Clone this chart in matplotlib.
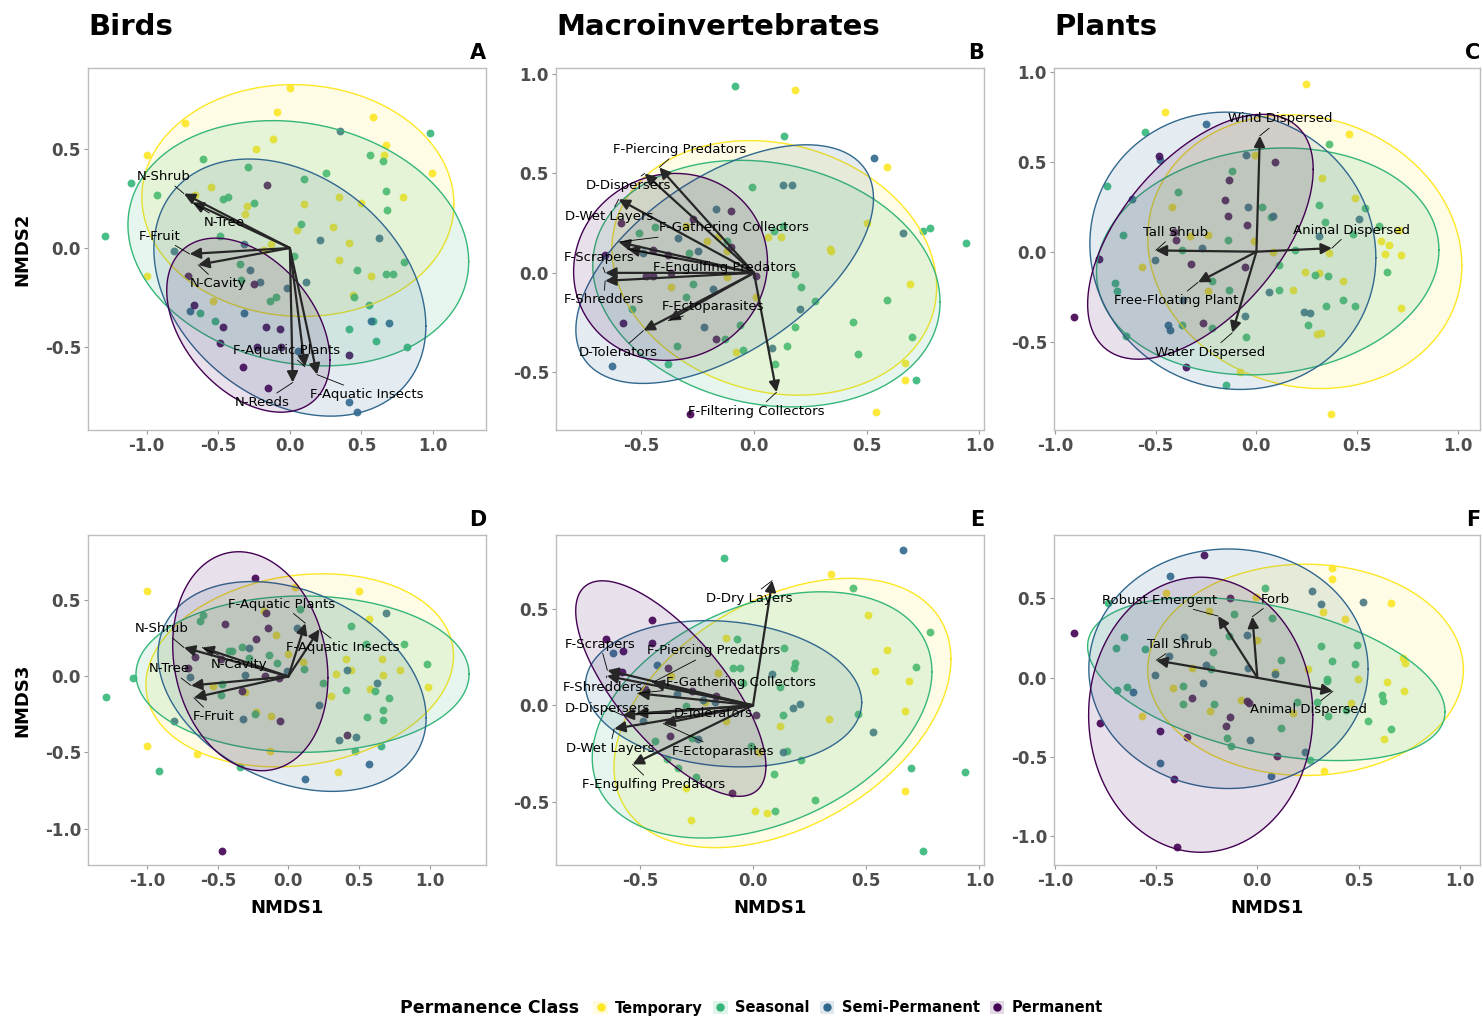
import numpy as np
import matplotlib
matplotlib.use('Agg')
import matplotlib.pyplot as plt
from matplotlib.lines import Line2D
from matplotlib.patches import Patch
from matplotlib.ticker import FormatStrFormatter

W, H = 1483, 1019

CLASSES = ['Temporary', 'Seasonal', 'Semi-Permanent', 'Permanent']
COLORS = ['#FDE725', '#35B779', '#31688E', '#440154']

##################### panel A : birds NMDS1 x NMDS2 #####################
a_temporary = [(0.0, 0.81), (-0.09, 0.69), (-0.73, 0.63), (0.58, 0.66), (0.67, 0.52), (-1.0, 0.47),
               (0.66, 0.47), (0.995, 0.38), (-0.12, 0.55), (-0.24, 0.50), (-0.55, 0.31), (-0.66, 0.27),
               (-0.30, 0.21), (-0.31, 0.17), (0.10, 0.22), (0.34, 0.26), (0.79, 0.26), (0.50, 0.23),
               (0.30, 0.105), (0.05, 0.09), (0.41, 0.025), (-0.13, 0.02), (0.34, -0.06), (-0.18, -0.01),
               (0.57, -0.14), (-1.0, -0.14), (-0.54, -0.27), (0.44, -0.24)]
a_seasonal = [(-1.29, 0.06), (-1.11, 0.33), (-0.93, 0.27), (-0.61, 0.45), (-0.29, 0.41), (-0.47, 0.25),
              (-0.43, 0.26), (-0.25, 0.23), (0.10, 0.35), (0.25, 0.38), (0.98, 0.58), (0.56, 0.47),
              (0.65, 0.44), (0.67, 0.29), (0.68, 0.19), (0.08, 0.12), (-0.49, 0.06), (0.03, -0.04),
              (-0.35, -0.08), (-0.34, -0.16), (0.47, -0.11), (0.67, -0.13), (0.72, -0.13), (0.80, -0.07),
              (0.45, -0.25), (-0.14, -0.27), (-0.10, -0.25), (-0.63, -0.33), (-0.52, -0.37), (0.55, -0.29),
              (0.58, -0.37), (0.41, -0.41), (0.60, -0.47), (0.82, -0.50)]
a_semi = [(0.35, 0.59), (0.21, 0.04), (0.62, 0.05), (-0.81, -0.015), (-0.32, 0.02), (-0.28, -0.11),
          (-0.21, -0.17), (-0.02, -0.20), (0.11, -0.17), (-0.70, -0.32), (-0.32, -0.33), (0.57, -0.37),
          (0.69, -0.38), (0.06, -0.52), (0.41, -0.78), (0.47, -0.83)]
a_permanent = [(-0.16, 0.32), (-0.71, -0.14), (-0.25, -0.18), (-0.67, -0.29), (-0.47, -0.40), (-0.17, -0.40),
               (-0.07, -0.41), (-0.49, -0.48), (-0.23, -0.50), (-0.06, -0.50), (0.41, -0.54), (-0.33, -0.60),
               (-0.15, -0.71)]
# ellipse: centre x, centre y, half-width, half-height, correlation
a_ellipses = [(0.056, 0.24, 1.09, 0.586, -0.03), (0.059, 0.024, 1.19, 0.62, -0.15),
              (0.0, -0.20, 0.95, 0.65, -0.3), (-0.29, -0.39, 0.57, 0.44, -0.4)]
a_traits = ['N-Shrub', 'N-Tree', 'F-Fruit', 'N-Cavity', 'F-Aquatic Plants', 'F-Aquatic Insects', 'N-Reeds']
a_tips = [(-0.74, 0.275), (-0.68, 0.23), (-0.70, -0.03), (-0.64, -0.085), (0.105, -0.60), (0.19, -0.64), (0.02, -0.68)]
a_labels = [(-0.88, 0.36), (-0.46, 0.13), (-0.91, 0.06), (-0.50, -0.18), (-0.02, -0.52), (0.54, -0.74), (-0.19, -0.78)]

##################### panel B : macroinvertebrates NMDS1 x NMDS2 #####################
b_temporary = [(0.18, 0.92), (0.59, 0.53), (0.50, 0.25), (0.335, 0.12), (0.34, 0.11), (0.06, 0.18),
               (0.12, 0.18), (-0.21, 0.16), (-0.12, 0.11), (-0.16, 0.18), (-0.12, -0.02), (-0.37, -0.07),
               (0.01, -0.12), (-0.08, -0.40), (0.69, -0.055), (0.67, -0.455), (0.67, -0.54), (0.54, -0.70),
               (-0.30, 0.235)]
b_seasonal = [(-0.083, 0.94), (0.134, 0.69), (-0.01, 0.43), (-0.44, 0.23), (-0.51, 0.20), (-0.29, 0.10),
              (-0.27, -0.055), (-0.30, -0.12), (-0.54, -0.18), (-0.34, -0.37), (-0.38, -0.46), (-0.13, -0.33),
              (-0.06, -0.26), (-0.05, -0.39), (-0.12, 0.16), (0.09, 0.21), (0.13, 0.235), (0.18, -0.007),
              (0.21, -0.07), (0.27, -0.14), (0.18, -0.27), (0.145, -0.37), (0.095, -0.46), (0.44, -0.245),
              (0.46, -0.41), (0.59, -0.135), (0.70, -0.32), (0.72, -0.54), (0.75, 0.21), (0.78, 0.225),
              (0.94, 0.15)]
b_semi = [(0.53, 0.58), (0.13, 0.44), (0.17, 0.44), (-0.17, 0.32), (-0.335, 0.175), (-0.25, 0.11),
          (-0.49, 0.10), (-0.18, -0.08), (-0.22, -0.27), (0.205, -0.18), (0.66, 0.20), (0.08, -0.38),
          (-0.63, -0.47)]
b_permanent = [(-0.10, 0.31), (-0.27, 0.27), (-0.59, 0.25), (-0.10, 0.13), (-0.45, 0.115), (-0.66, 0.09),
               (-0.38, 0.09), (-0.48, -0.015), (-0.45, -0.015), (0.01, -0.015), (-0.37, 0.0), (-0.58, -0.25),
               (-0.17, -0.33), (-0.285, -0.71)]
b_ellipses = [(0.09, 0.025, 0.72, 0.64, -0.15), (0.055, -0.054, 0.77, 0.62, -0.15),
              (-0.13, 0.044, 0.66, 0.60, 0.55), (-0.37, 0.03, 0.43, 0.47, 0.05)]
b_traits = ['F-Piercing Predators', 'D-Dispersers', 'D-Wet Layers', 'F-Gathering Collectors',
            'F-Engulfing Predators', 'F-Scrapers', 'F-Shredders', 'F-Ectoparasites', 'D-Tolerators',
            'F-Filtering Collectors']
b_tips = [(-0.42, 0.53), (-0.485, 0.50), (-0.60, 0.37), (-0.60, 0.155), (-0.56, 0.12), (-0.66, 0.0),
          (-0.66, -0.04), (-0.38, -0.24), (-0.49, -0.29), (0.10, -0.60)]
b_labels = [(-0.33, 0.62), (-0.556, 0.44), (-0.64, 0.285), (-0.09, 0.226), (-0.13, 0.025), (-0.685, 0.075),
            (-0.666, -0.134), (-0.18, -0.17), (-0.60, -0.40), (0.01, -0.695)]

##################### panel C : plants NMDS1 x NMDS2 #####################
c_temporary = [(0.245, 0.93), (-0.455, 0.776), (0.46, 0.655), (-0.005, 0.535), (0.325, 0.41), (0.49, 0.30),
               (-0.42, 0.25), (-0.33, 0.085), (-0.24, 0.095), (-0.013, 0.057), (0.08, -0.004), (0.36, -0.007),
               (0.62, 0.057), (0.656, 0.035), (0.636, -0.01), (0.72, -0.02), (0.71, 0.12), (-0.57, -0.085),
               (0.24, -0.115), (0.31, -0.12), (0.43, -0.16), (0.18, -0.21), (-0.24, -0.22), (0.72, -0.31),
               (0.30, -0.455), (0.32, -0.45), (-0.084, -0.67), (0.37, -0.90)]
c_seasonal = [(-0.555, 0.667), (0.36, 0.60), (-0.12, 0.45), (-0.74, 0.363), (-0.39, 0.333), (0.03, 0.25),
              (0.31, 0.26), (0.54, 0.24), (0.07, 0.19), (0.34, 0.165), (0.61, 0.14), (0.48, 0.10),
              (-0.66, 0.09), (-0.14, 0.067), (-0.37, 0.011), (0.19, 0.007), (0.11, -0.072), (-0.22, -0.16),
              (0.65, -0.11), (0.29, -0.13), (0.355, -0.133), (-0.70, -0.174), (-0.69, -0.22), (-0.135, -0.215),
              (0.114, -0.215), (0.344, -0.30), (0.43, -0.27), (0.49, -0.30), (-0.37, -0.405), (-0.22, -0.424),
              (0.255, -0.405), (-0.646, -0.467), (-0.05, -0.476), (-0.15, -0.74)]
c_semi = [(-0.25, 0.71), (-0.48, 0.51), (-0.05, 0.535), (-0.617, 0.29), (-0.04, 0.25), (0.083, 0.20),
          (0.51, 0.18), (0.31, 0.085), (-0.27, 0.019), (-0.505, -0.044), (-0.367, -0.267), (0.06, -0.226),
          (-0.055, -0.356), (-0.44, -0.405), (-0.43, -0.433), (0.235, -0.333), (0.268, -0.34)]
c_permanent = [(-0.484, 0.533), (0.093, 0.50), (-0.137, 0.396), (-0.157, 0.289), (-0.14, 0.20), (-0.045, 0.15),
               (-0.41, 0.11), (-0.40, 0.063), (-0.78, -0.039), (-0.327, -0.069), (-0.058, -0.083),
               (-0.906, -0.365), (-0.266, -0.396), (-0.35, -0.64)]
c_ellipses = [(0.24, 0.0, 0.78, 0.76, -0.1), (0.056, -0.054, 0.85, 0.63, 0.1),
              (-0.117, 0.005, 0.71, 0.77, -0.05), (-0.278, 0.083, 0.56, 0.68, 0.55)]
c_traits = ['Wind Dispersed', 'Tall Shrub', 'Animal Dispersed', 'Free-Floating Plant', 'Water Dispersed']
c_tips = [(0.017, 0.644), (-0.50, 0.007), (0.375, 0.02), (-0.29, -0.17), (-0.12, -0.45)]
c_labels = [(0.12, 0.737), (-0.40, 0.107), (0.47, 0.12), (-0.40, -0.27), (-0.23, -0.557)]

##################### panel D : birds NMDS1 x NMDS3 #####################
d_temporary = [(-1.0, 0.56), (0.50, 0.56), (0.05, 0.59), (-0.17, 0.43), (-0.09, 0.27), (0.57, 0.38),
               (0.0, 0.147), (0.10, 0.094), (0.41, 0.116), (0.34, 0.015), (0.445, 0.04), (0.66, 0.116),
               (0.79, 0.04), (0.67, 0.007), (0.99, -0.068), (0.58, -0.085), (0.30, -0.13), (-0.535, -0.06),
               (-0.305, -0.1), (-0.23, -0.234), (-0.12, -0.26), (-1.0, -0.455), (-0.65, -0.51), (-0.13, -0.49),
               (0.35, -0.63)]
d_seasonal = [(-1.29, -0.138), (-1.10, -0.011), (-0.92, -0.624), (-0.607, 0.405), (-0.625, 0.365), (-0.33, 0.195),
              (-0.42, 0.164), (-0.40, 0.164), (-0.28, 0.12), (-0.14, 0.138), (-0.08, 0.088), (0.107, 0.048),
              (0.085, 0.444), (0.244, -0.044), (-0.47, -0.048), (-0.48, -0.12), (-0.24, -0.245), (0.445, 0.333),
              (0.55, 0.21), (0.82, 0.21), (0.98, 0.083), (0.41, -0.088), (0.61, -0.094), (0.71, -0.142),
              (0.56, -0.27), (0.67, -0.223), (0.67, -0.284), (0.654, -0.46), (0.474, -0.49), (-0.346, -0.595)]
d_semi = [(0.69, 0.416), (0.06, 0.32), (-0.28, 0.186), (-0.305, 0.007), (-0.70, -0.004), (-0.012, 0.037),
          (0.417, 0.044), (0.626, -0.04), (0.215, -0.186), (-0.81, -0.29), (-0.325, -0.278), (0.36, -0.418),
          (0.476, -0.40), (0.573, -0.575), (0.114, -0.674)]
d_permanent = [(-0.24, 0.645), (-0.156, 0.416), (-0.45, 0.348), (-0.147, 0.317), (-0.227, 0.247), (-0.66, 0.131),
               (-0.71, 0.055), (-0.48, 0.114), (-0.166, 0.004), (-0.064, -0.011), (-0.33, -0.098),
               (-0.057, -0.295), (0.415, -0.385), (-0.474, -1.149)]
d_ellipses = [(0.08, 0.04, 1.09, 0.635, 0.15), (0.10, 0.015, 1.18, 0.514, 0.0),
              (0.026, -0.066, 0.95, 0.69, -0.3), (-0.27, 0.10, 0.55, 0.72, -0.15)]
d_traits = ['F-Aquatic Plants', 'N-Shrub', 'F-Aquatic Insects', 'N-Cavity', 'N-Tree', 'F-Fruit']
d_tips = [(0.12, 0.35), (-0.74, 0.19), (0.22, 0.31), (-0.61, 0.19), (-0.69, -0.06), (-0.67, -0.14)]
d_labels = [(-0.045, 0.475), (-0.90, 0.313), (0.386, 0.19), (-0.35, 0.077), (-0.846, 0.05), (-0.533, -0.263)]

##################### panel E : macroinvertebrates NMDS1 x NMDS3 #####################
e_temporary = [(0.343, 0.68), (0.507, 0.47), (-0.118, 0.352), (0.59, 0.286), (0.538, 0.179), (0.69, 0.127),
               (-0.156, 0.168), (-0.36, 0.153), (-0.21, 0.017), (0.67, -0.03), (0.335, -0.071), (0.119, -0.109),
               (-0.118, -0.082), (0.673, -0.446), (0.009, -0.55), (0.063, -0.559), (-0.275, -0.594),
               (-0.297, -0.429), (0.026, -0.245)]
e_seasonal = [(-0.13, 0.764), (0.44, 0.608), (0.78, 0.38), (-0.07, 0.344), (0.137, 0.30), (0.184, 0.222),
              (0.18, 0.196), (-0.088, 0.196), (-0.059, 0.196), (0.72, 0.20), (0.12, 0.097), (-0.043, 0.118),
              (-0.297, -0.003), (0.134, -0.052), (0.463, -0.043), (-0.432, -0.186), (-0.268, -0.172),
              (-0.378, -0.278), (-0.33, -0.325), (-0.253, -0.372), (0.093, -0.356), (0.149, -0.238),
              (0.21, -0.285), (0.696, -0.325), (0.274, -0.493), (0.097, -0.55), (0.935, -0.347),
              (0.75, -0.759), (-0.01, -0.213)]
e_semi = [(0.663, 0.807), (-0.62, 0.27), (-0.425, 0.21), (0.085, 0.161), (-0.334, 0.057), (-0.22, 0.026),
          (-0.17, 0.019), (0.175, -0.012), (0.207, 0.009), (-0.485, -0.082), (-0.241, -0.177), (0.134, -0.241),
          (0.528, -0.137)]
e_permanent = [(-0.444, 0.443), (-0.65, 0.344), (-0.574, 0.283), (-0.444, 0.326), (-0.375, 0.194), (-0.58, 0.175),
               (-0.476, 0.083), (-0.268, 0.075), (-0.165, 0.049), (0.015, -0.05), (-0.368, -0.16), (-0.094, -0.455)]
e_ellipses = [(0.13, -0.04, 0.744, 0.70, 0.4), (0.04, -0.05, 0.75, 0.64, 0.35),
              (-0.13, 0.06, 0.61, 0.38, -0.12), (-0.363, 0.087, 0.42, 0.56, -0.72)]
e_traits = ['D-Dry Layers', 'F-Scrapers', 'F-Shredders', 'F-Piercing Predators', 'F-Gathering Collectors',
            'D-Dispersers', 'D-Tolerators', 'F-Ectoparasites', 'D-Wet Layers', 'F-Engulfing Predators']
e_tips = [(0.085, 0.648), (-0.643, 0.182), (-0.645, 0.153), (-0.444, 0.118), (-0.51, 0.0625),
          (-0.576, -0.052), (-0.518, -0.043), (-0.396, -0.095), (-0.613, -0.122), (-0.532, -0.307)]
e_labels = [(-0.018, 0.556), (-0.675, 0.318), (-0.662, 0.095), (-0.175, 0.283), (-0.054, 0.118),
            (-0.643, -0.016), (-0.175, -0.043), (-0.131, -0.238), (-0.632, -0.222), (-0.441, -0.411)]

##################### panel F : plants NMDS1 x NMDS3 #####################
f_temporary = [(0.37, 0.69), (0.367, 0.62), (0.66, 0.473), (-0.452, 0.533), (-0.008, 0.512), (-0.238, 0.423),
               (0.322, 0.414), (0.434, 0.368), (-0.003, 0.241), (0.72, 0.127), (0.728, 0.093), (-0.324, 0.061),
               (0.248, 0.057), (0.086, 0.034), (0.498, -0.008), (0.64, -0.025), (0.725, -0.085), (-0.416, -0.066),
               (-0.082, -0.14), (0.464, -0.159), (-0.235, -0.209), (0.178, -0.22), (-0.571, -0.243),
               (0.627, -0.387), (0.329, -0.59)]
f_seasonal = [(-0.74, 0.469), (0.036, 0.565), (-0.115, 0.40), (0.074, 0.378), (-0.14, 0.262), (-0.658, 0.258),
              (-0.699, 0.19), (-0.554, 0.184), (-0.219, 0.161), (0.312, 0.203), (0.493, 0.209), (0.118, 0.114),
              (0.367, 0.108), (0.48, 0.085), (-0.227, 0.053), (-0.694, -0.076), (-0.645, -0.055), (-0.37, -0.051),
              (0.342, -0.006), (0.345, -0.023), (-0.37, -0.165), (-0.214, -0.165), (0.197, -0.154), (0.296, -0.15),
              (0.35, -0.239), (0.617, -0.108), (0.622, -0.144), (0.546, -0.27), (0.66, -0.323), (0.115, -0.315),
              (-0.148, -0.38), (-0.132, -0.429), (0.258, -0.52), (0.436, -0.203)]
f_semi = [(-0.431, 0.643), (0.27, 0.55), (0.316, 0.465), (0.52, 0.48), (-0.362, 0.258), (-0.053, 0.268),
          (-0.436, 0.14), (-0.252, 0.082), (-0.046, 0.061), (0.087, 0.021), (-0.505, 0.019), (-0.268, -0.034),
          (-0.617, -0.087), (-0.036, -0.393), (0.235, -0.467), (-0.48, -0.537), (0.066, -0.622)]
f_permanent = [(-0.263, 0.776), (-0.905, 0.283), (-0.135, 0.505), (-0.324, -0.129), (-0.053, -0.144),
               (-0.041, -0.161), (-0.137, -0.25), (-0.153, -0.302), (-0.778, -0.285), (-0.482, -0.334),
               (-0.35, -0.372), (-0.414, -0.636), (0.095, -0.493), (-0.398, -1.066)]
f_ellipses = [(0.238, 0.05, 0.78, 0.666, 0.0), (0.044, -0.008, 0.883, 0.514, -0.4),
              (-0.143, 0.057, 0.69, 0.755, 0.0), (-0.28, -0.233, 0.554, 0.867, 0.0)]
f_traits = ['Robust Emergent', 'Forb', 'Tall Shrub', 'Animal Dispersed']
f_tips = [(-0.194, 0.389), (-0.025, 0.385), (-0.50, 0.11), (0.373, -0.085)]
f_labels = [(-0.485, 0.49), (0.09, 0.495), (-0.386, 0.211), (0.255, -0.203)]


def ellipse_xy(cx, cy, sx, sy, rho, n=240):
    t = np.linspace(0, 2 * np.pi, n)
    x = cx + sx * np.cos(t)
    y = cy + sy * (rho * np.cos(t) + np.sqrt(1 - rho ** 2) * np.sin(t))
    return x, y


def draw_panel(ax, groups, ellipses, traits, tips, labels):
    for pts, c in zip(groups, COLORS):
        pts = np.array(pts)
        ax.scatter(pts[:, 0], pts[:, 1], s=32, color=c, alpha=0.9, linewidths=0, zorder=2)
    for (cx, cy, sx, sy, rho), c in zip(ellipses, COLORS):
        x, y = ellipse_xy(cx, cy, sx, sy, rho)
        ax.fill(x, y, facecolor=c, alpha=0.12, edgecolor='none', zorder=3)
        ax.plot(x, y, color=c, lw=1.0, zorder=3)
    for name, tip, lab in zip(traits, tips, labels):
        ax.annotate('', xy=tip, xytext=(0, 0), zorder=5,
                    arrowprops=dict(arrowstyle='-|>', color='#262626', lw=1.6,
                                    mutation_scale=16, shrinkA=0, shrinkB=0))
        ax.annotate(name, xy=tip, xytext=lab, ha='center', va='center', fontsize=9.5,
                    color='black', zorder=6,
                    arrowprops=dict(arrowstyle='-', color='black', lw=0.6, shrinkA=0, shrinkB=0))


fig = plt.figure(figsize=(W / 100, H / 100), dpi=100)

# axes boxes in pixels: left, top, right, bottom
boxes = [(88, 68, 486, 430), (556, 68, 984, 430), (1054, 68, 1480, 430),
         (88, 535, 486, 865), (556, 535, 984, 865), (1054, 535, 1480, 865)]
panels = [
    ([a_temporary, a_seasonal, a_semi, a_permanent], a_ellipses, a_traits, a_tips, a_labels,
     (-1.41, 1.37), (-0.92, 0.91), [-1.0, -0.5, 0.0, 0.5, 1.0], [-0.5, 0.0, 0.5], 'A'),
    ([b_temporary, b_seasonal, b_semi, b_permanent], b_ellipses, b_traits, b_tips, b_labels,
     (-0.878, 1.02), (-0.79, 1.03), [-0.5, 0.0, 0.5, 1.0], [-0.5, 0.0, 0.5, 1.0], 'B'),
    ([c_temporary, c_seasonal, c_semi, c_permanent], c_ellipses, c_traits, c_tips, c_labels,
     (-1.005, 1.11), (-0.99, 1.02), [-1.0, -0.5, 0.0, 0.5, 1.0], [-0.5, 0.0, 0.5, 1.0], 'C'),
    ([d_temporary, d_seasonal, d_semi, d_permanent], d_ellipses, d_traits, d_tips, d_labels,
     (-1.42, 1.40), (-1.24, 0.93), [-1.0, -0.5, 0.0, 0.5, 1.0], [-1.0, -0.5, 0.0, 0.5], 'D'),
    ([e_temporary, e_seasonal, e_semi, e_permanent], e_ellipses, e_traits, e_tips, e_labels,
     (-0.87, 1.02), (-0.83, 0.885), [-0.5, 0.0, 0.5, 1.0], [-0.5, 0.0, 0.5], 'E'),
    ([f_temporary, f_seasonal, f_semi, f_permanent], f_ellipses, f_traits, f_tips, f_labels,
     (-1.005, 1.10), (-1.18, 0.90), [-1.0, -0.5, 0.0, 0.5, 1.0], [-1.0, -0.5, 0.0, 0.5], 'F'),
]

for (l, t, r, b), p in zip(boxes, panels):
    groups, ells, traits, tips, labels, xlim, ylim, xt, yt, letter = p
    ax = fig.add_axes([l / W, 1 - b / H, (r - l) / W, (b - t) / H])
    draw_panel(ax, groups, ells, traits, tips, labels)
    ax.set_xlim(*xlim)
    ax.set_ylim(*ylim)
    ax.set_xticks(xt)
    ax.set_yticks(yt)
    ax.xaxis.set_major_formatter(FormatStrFormatter('%.1f'))
    ax.yaxis.set_major_formatter(FormatStrFormatter('%.1f'))
    ax.tick_params(length=3, width=0.8, color='#9A9A9A', labelsize=12, labelcolor='#4D4D4D', pad=2)
    plt.setp(ax.get_xticklabels(), fontweight='bold')
    plt.setp(ax.get_yticklabels(), fontweight='bold')
    for s in ax.spines.values():
        s.set_color('#BDBDBD')
        s.set_linewidth(1.0)
    fig.text(r / W, 1 - (t - 15) / H, letter, ha='right', va='center', fontsize=15, fontweight='bold')

# column titles
for x, name in [(88, 'Birds'), (556, 'Macroinvertebrates'), (1054, 'Plants')]:
    fig.text(x / W, 1 - 27 / H, name, ha='left', va='center', fontsize=21, fontweight='bold')

# axis titles
fig.text(22 / W, 1 - 249 / H, 'NMDS2', rotation=90, ha='center', va='center', fontsize=13, fontweight='bold')
fig.text(22 / W, 1 - 700 / H, 'NMDS3', rotation=90, ha='center', va='center', fontsize=13, fontweight='bold')
for l, r in [(88, 486), (556, 984), (1054, 1480)]:
    fig.text((l + r) / 2 / W, 1 - 908 / H, 'NMDS1', ha='center', va='center', fontsize=13, fontweight='bold')

# legend
fig.text(400 / W, 1 - 1008 / H, 'Permanence Class', ha='left', va='center', fontsize=12.5, fontweight='bold')
handles = [(Patch(facecolor=c, alpha=0.15, edgecolor='none'),
            Line2D([], [], marker='o', ls='', color=c, markersize=5)) for c in COLORS]
leg = fig.legend(handles, CLASSES, loc='center left', bbox_to_anchor=(586 / W, 1 - 1008 / H), ncol=4,
                 frameon=False, handlelength=1.0, handleheight=1.0, handletextpad=0.5,
                 columnspacing=0.7, borderpad=0, prop={'size': 10.5, 'weight': 'bold'})

fig.savefig('out.png', dpi=100)
